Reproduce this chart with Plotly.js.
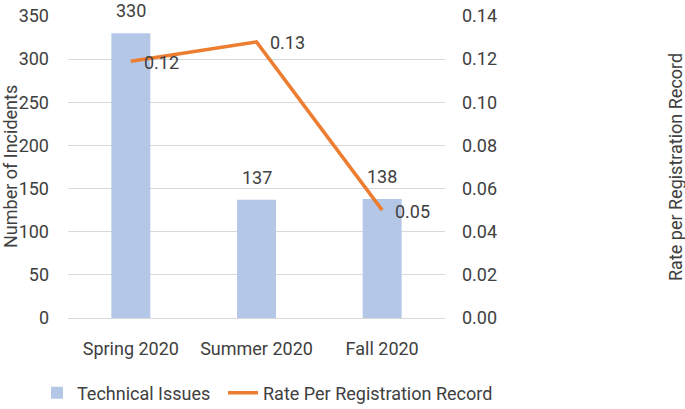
<!DOCTYPE html>
<html><head><meta charset="utf-8">
<script src="https://cdn.plot.ly/plotly-3.0.1.min.js"></script>
<style>html,body{margin:0;padding:0;background:#fff}#c{width:685px;height:409px}</style>
</head><body><div id="c"></div>
<script>
var categories = ["Spring 2020", "Summer 2020", "Fall 2020"];
var technicalIssues = [330, 137, 138];
var ratePerRecord = [0.119, 0.128, 0.050];
var leftTicks = [0, 50, 100, 150, 200, 250, 300, 350];
var rightTicks = [0, 0.02, 0.04, 0.06, 0.08, 0.10, 0.12, 0.14];
var leftTitle = "Number of Incidents";
var rightTitle = "Rate per Registration Record";

var FONT = "Roboto, Liberation Sans, sans-serif";
var FS = 18;
var TXT = "#404040";
var F = {family: FONT, size: FS, color: TXT};

var bar = {
  type: "bar", x: categories, y: technicalIssues, name: "Technical Issues",
  marker: {color: "#B4C7E7"}, width: 0.31, legend: "legend"
};
var line = {
  type: "scatter", mode: "lines", x: categories, y: ratePerRecord, yaxis: "y2",
  name: "Rate Per Registration Record", legend: "legend2",
  line: {color: "#ED7D31", width: 3.5}
};
var anns = [];
categories.forEach(function(c, i){
  anns.push({x: c, y: technicalIssues[i], xref: "x", yref: "y", text: String(technicalIssues[i]),
             showarrow: false, yanchor: "bottom", yshift: 10, font: F});
  anns.push({x: c, y: ratePerRecord[i], xref: "x", yref: "y2", text: ratePerRecord[i].toFixed(2),
             showarrow: false, xanchor: "left", yanchor: "middle", xshift: 11, yshift: -1, font: F});
});
anns.push({xref: "paper", yref: "paper", x: 0, y: 0.5, xshift: -58, text: leftTitle,
           textangle: -90, showarrow: false, xanchor: "center", yanchor: "middle", font: F});
anns.push({xref: "paper", yref: "paper", x: 1, y: 0.5, xshift: 230, text: rightTitle,
           textangle: -90, showarrow: false, xanchor: "center", yanchor: "middle", font: F});

var layout = {
  width: 685, height: 409,
  margin: {l: 68, r: 240, t: 16, b: 91, autoexpand: false},
  paper_bgcolor: "#fff", plot_bgcolor: "#fff",
  font: F,
  showlegend: true,
  annotations: anns,
  legend: {xref: "container", yref: "container", x: 37/685, xanchor: "left",
           y: 16/409, yanchor: "middle", bgcolor: "rgba(0,0,0,0)", font: F},
  legend2: {xref: "container", yref: "container", x: 223/685, xanchor: "left",
           y: 16/409, yanchor: "middle", bgcolor: "rgba(0,0,0,0)", font: F},
  xaxis: {tickfont: F, showgrid: false,
          showline: true, linecolor: "#D9D9D9", linewidth: 1, ticks: "", ticklabelstandoff: 14},
  yaxis: {range: [0, 350], tickvals: leftTicks, ticktext: leftTicks.map(String),
          gridcolor: "#D9D9D9", gridwidth: 1, zeroline: false, ticks: "",
          ticklabelstandoff: 18, tickfont: F},
  yaxis2: {range: [0, 0.14], overlaying: "y", side: "right", tickvals: rightTicks,
           ticktext: rightTicks.map(function(v){return v.toFixed(2);}),
           showgrid: false, zeroline: false, ticks: "", ticklabelstandoff: 16, tickfont: F}
};
Plotly.newPlot("c", [bar, line], layout, {displayModeBar: false, staticPlot: true});
</script></body></html>
